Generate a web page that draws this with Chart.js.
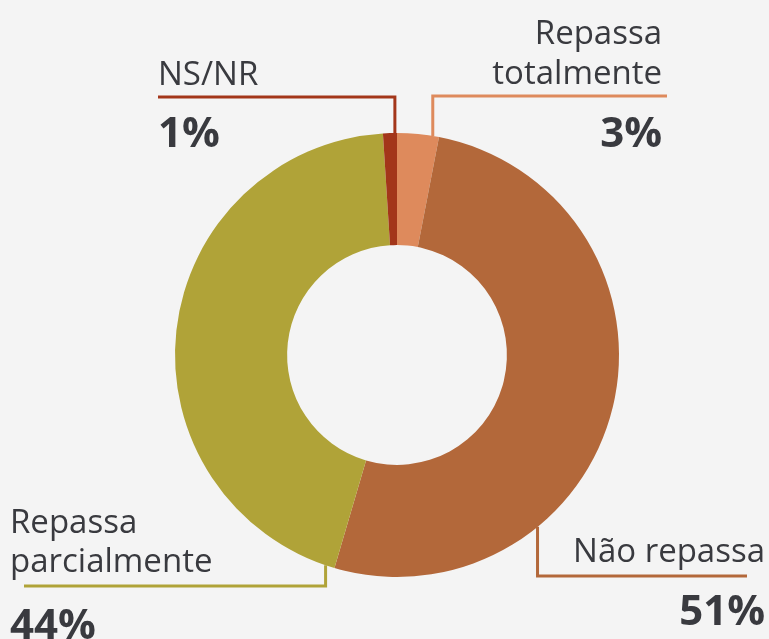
<!DOCTYPE html>
<html>
<head>
<meta charset="utf-8">
<script src="https://cdn.jsdelivr.net/npm/chart.js@4"></script>
<style>
  html, body { margin: 0; padding: 0; background: #f4f4f4; }
  #wrap { width: 769px; height: 639px; position: relative; }
</style>
</head>
<body>
<div id="wrap"><canvas id="donut"></canvas></div>
<script>
"use strict";

const CATEGORIES = ["Repassa totalmente", "Não repassa", "Repassa parcialmente", "NS/NR"];
const VALUES = [3, 51, 44, 1];
const COLORS = ["#de8a5c", "#b3683a", "#b0a338", "#a3361a"];

// label placement per slice: where on the slice the leader starts, where the line ends
const CALLOUTS = [
  { lines: ["Repassa", "totalmente"], at: 0.85, lineY: 96, lineEnd: 667, align: "right", textX: 662, textY: [44, 84], pctY: 147 },
  { lines: ["Não repassa"], at: 0.70, lineY: 576, lineEnd: 747, align: "right", textX: 765, textY: [562], pctY: 625 },
  { lines: ["Repassa", "parcialmente"], at: 0.015, lineY: 586, lineEnd: 24, align: "left", textX: 10, textY: [533, 572], pctY: 639 },
  { lines: ["NS/NR"], at: 0.85, lineY: 97, lineEnd: 158, align: "left", textX: 158, textY: [85], pctY: 147 }
];

const calloutPlugin = {
  id: "callouts",
  afterDatasetsDraw(chart) {
    const ctx = chart.ctx;
    const arcs = chart.getDatasetMeta(0).data;
    ctx.save();
    arcs.forEach((arc, i) => {
      const c = CALLOUTS[i];
      const p = arc.getProps(["x", "y", "startAngle", "endAngle", "outerRadius"], true);
      const a = p.startAngle + (p.endAngle - p.startAngle) * c.at;
      const ax = p.x + Math.cos(a) * p.outerRadius;
      const ay = p.y + Math.sin(a) * p.outerRadius;

      ctx.strokeStyle = COLORS[i];
      ctx.lineWidth = 3;
      ctx.beginPath();
      ctx.moveTo(ax, ay);
      ctx.lineTo(ax, c.lineY);
      ctx.lineTo(c.lineEnd, c.lineY);
      ctx.stroke();

      ctx.fillStyle = "#393a3f";
      ctx.textAlign = c.align;
      ctx.textBaseline = "alphabetic";
      ctx.font = "500 33px 'Open Sans'";
      c.lines.forEach((t, k) => ctx.fillText(t, c.textX, c.textY[k]));
      ctx.font = "bold 42px 'Open Sans'";
      ctx.fillText(VALUES[i] + "%", c.textX, c.pctY);
    });
    ctx.restore();
  }
};

new Chart(document.getElementById("donut"), {
  type: "doughnut",
  data: {
    labels: CATEGORIES,
    datasets: [{
      data: VALUES,
      backgroundColor: COLORS,
      borderWidth: 0
    }]
  },
  options: {
    responsive: true,
    maintainAspectRatio: false,
    animation: false,
    cutout: "49.5%",
    layout: { padding: { left: 175, right: 150, top: 133, bottom: 62 } },
    plugins: {
      legend: { display: false },
      tooltip: { enabled: false }
    }
  },
  plugins: [calloutPlugin]
});
</script>
</body>
</html>
